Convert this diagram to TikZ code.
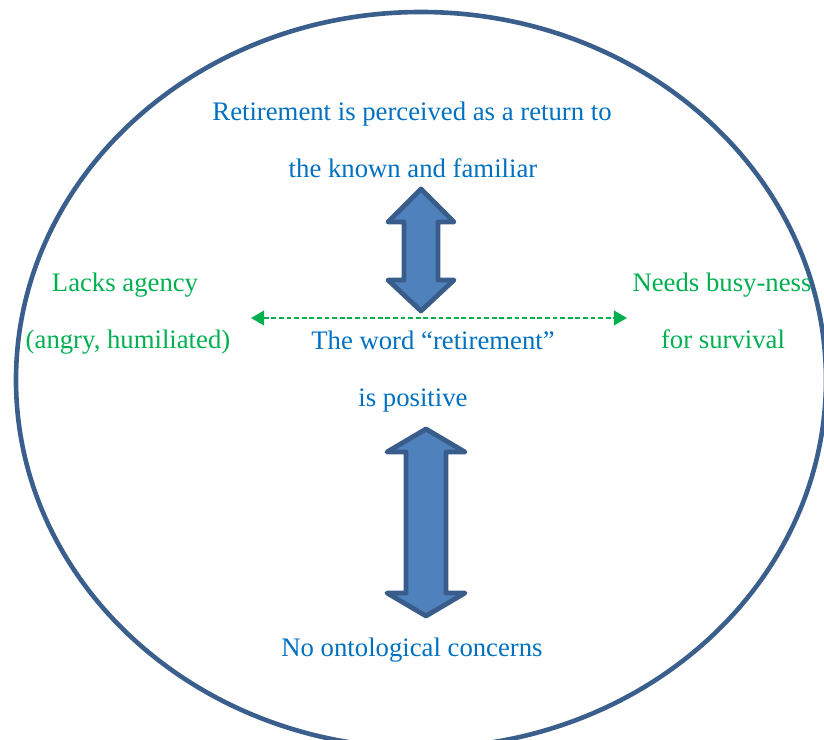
\documentclass[tikz,border=0pt]{standalone}
\usepackage{fontspec}
\setmainfont{Liberation Serif}
\usetikzlibrary{arrows.meta}

\definecolor{ringblue}{RGB}{59,95,140}
\definecolor{fillblue}{RGB}{79,129,189}
\definecolor{edgeblue}{RGB}{56,93,138}
\definecolor{textblue}{RGB}{0,112,192}
\definecolor{textgreen}{RGB}{0,176,80}

\begin{document}
\begin{tikzpicture}[x=0.025cm, y=-0.025cm,
    ring/.style={draw=ringblue, line width=0.115cm},
    block/.style={fill=fillblue, draw=edgeblue, line width=0.12cm, line join=round},
    link/.style={textgreen, line width=0.05cm, dash pattern=on 0.12cm off 0.07cm,
        {Triangle[length=0.33cm,width=0.37cm]}-{Triangle[length=0.33cm,width=0.37cm]}},
    lbl/.style={anchor=base, inner sep=0pt, font=\fontsize{19}{23}\selectfont},
    topic/.style={lbl, text=textblue},
    side/.style={lbl, text=textgreen}]
    \useasboundingbox (0,0) rectangle (824,740);

    % outer ring
    \draw[ring] (421,380) ellipse [x radius=405, y radius=368];

    % top
    \node[topic] (return) at (412,121) {Retirement is perceived as a return to};
    \node[topic] (familiar) at (413,178) {the known and familiar};

    % left and right
    \node[side] (agency) at (125,292) {Lacks agency};
    \node[side] (humiliated) at (128,349) {(angry, humiliated)};
    \node[side] (busy) at (722,292) {Needs busy-ness};
    \node[side] (survival) at (723,349) {for survival};

    % centre
    \node[topic] (word) at (433,350) {The word ``retirement''};
    \node[topic] (positive) at (413,407) {is positive};

    % bottom
    \node[topic] (concerns) at (412,657) {No ontological concerns};

    % upper arrow
    \draw[block] (421,189) -- (454,222) -- (438,222) -- (438,280) -- (454,280)
        -- (421,311) -- (388,280) -- (404,280) -- (404,222) -- (388,222) -- cycle;

    % lower arrow
    \draw[block] (426,429) -- (465,452) -- (446,452) -- (446,593) -- (465,593)
        -- (426,616) -- (387,593) -- (406,593) -- (406,452) -- (387,452) -- cycle;

    % dashed axis
    \coordinate (west) at (251,318);
    \coordinate (east) at (627,318);
    \draw[link] (west) -- (east);
\end{tikzpicture}
\end{document}
